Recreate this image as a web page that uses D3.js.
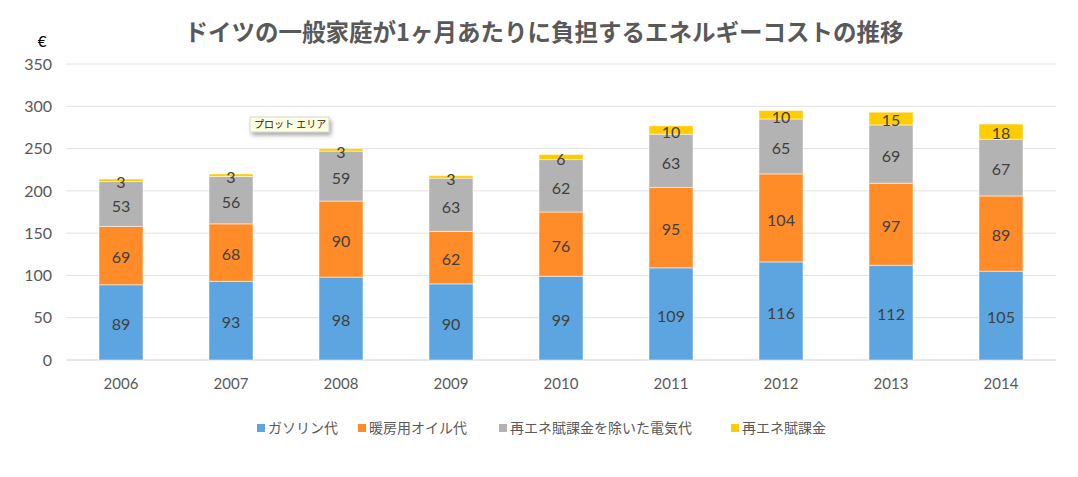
<!DOCTYPE html>
<html><head><meta charset="utf-8">
<script src="https://cdn.jsdelivr.net/npm/d3@7"></script>
<style>body{margin:0;background:#fff;} svg{font-family:"Noto Sans CJK JP","Open Sans",sans-serif;} .num{font-family:Lato,"Open Sans",sans-serif;}</style>
</head><body>
<svg id="c" width="1078" height="477"></svg>
<script>
const years = ["2006","2007","2008","2009","2010","2011","2012","2013","2014"];
const seriesNames = ["ガソリン代","暖房用オイル代","再エネ賦課金を除いた電気代","再エネ賦課金"];
const gasoline = [89,93,98,90,99,109,116,112,105];
const heating  = [69,68,90,62,76,95,104,97,89];
const electric = [53,56,59,63,62,63,65,69,67];
const levy     = [3,3,3,3,6,10,10,15,18];
const yTicks = [0,50,100,150,200,250,300,350];
const colors = ["#5DA5E0","#FF8C28","#B3B3B3","#FFCC00"];

const svg = d3.select("#c");
const x = d3.scaleBand().domain(years).range([66,1056]).paddingInner(0.6).paddingOuter(0.3);
const y = d3.scaleLinear().domain([0,350]).range([360,64]);

const rows = years.map((yr,i)=>({year:yr, s0:gasoline[i], s1:heating[i], s2:electric[i], s3:levy[i]}));
const stack = d3.stack().keys(["s0","s1","s2","s3"])(rows);

// grid
svg.append("g").selectAll("line").data(yTicks).join("line")
  .attr("x1",66).attr("x2",1056).attr("y1",d=>y(d)).attr("y2",d=>y(d))
  .attr("stroke",d=>d===0?"#d0d0d0":"#e2e2e2").attr("stroke-width",1);

// y labels
svg.append("g").selectAll("text").data(yTicks).join("text").attr("class","num")
  .attr("x",52).attr("y",d=>y(d)).attr("dy","0.36em").attr("text-anchor","end")
  .attr("font-size",16).attr("fill","#595959").text(d=>d);
svg.append("text").attr("class","num").attr("x",42).attr("y",47).attr("text-anchor","middle").attr("font-size",15).attr("fill","#000").text("€");

// bars
const g = svg.append("g");
stack.forEach((layer,li)=>{
  g.append("g").selectAll("rect").data(layer).join("rect")
    .attr("x",d=>x(d.data.year)).attr("width",x.bandwidth())
    .attr("y",d=>y(d[1])).attr("height",d=>y(d[0])-y(d[1]))
    .attr("fill",colors[li]).attr("stroke","#ffffff").attr("stroke-opacity",0.5).attr("stroke-width",1);
  g.append("g").selectAll("text").data(layer).join("text").attr("class","num")
    .attr("x",d=>x(d.data.year)+x.bandwidth()/2)
    .attr("y",d=>(y(d[0])+y(d[1]))/2 + 2)
    .attr("dy","0.36em").attr("text-anchor","middle")
    .attr("font-size",16).attr("fill","#404040")
    .text(d=>d[1]-d[0]);
});

// x labels
svg.append("g").selectAll("text").data(years).join("text").attr("class","num")
  .attr("x",d=>x(d)+x.bandwidth()/2).attr("y",384).attr("dy","0.36em").attr("text-anchor","middle")
  .attr("font-size",15).attr("fill","#595959").text(d=>d);

// title
svg.append("text").attr("x",544).attr("y",33).attr("dy","0.35em").attr("text-anchor","middle")
  .attr("font-size",23.5).attr("font-weight","bold").attr("fill","#595959")
  .text("ドイツの一般家庭が1ヶ月あたりに負担するエネルギーコストの推移");

// legend
const legX = [257,358,499,731];
const leg = svg.append("g");
seriesNames.forEach((n,i)=>{
  leg.append("rect").attr("x",legX[i]).attr("y",424).attr("width",8).attr("height",8).attr("fill",colors[i]);
  leg.append("text").attr("x",legX[i]+11).attr("y",428).attr("dy","0.35em").attr("font-size",14).attr("fill","#595959").text(n);
});

// tooltip
const defs = svg.append("defs");
const f = defs.append("filter").attr("id","sh").attr("x","-20%").attr("y","-30%").attr("width","150%").attr("height","190%");
f.append("feDropShadow").attr("dx",2).attr("dy",3).attr("stdDeviation",2).attr("flood-color","#000").attr("flood-opacity",0.35);
svg.append("rect").attr("x",250).attr("y",117).attr("width",79).attr("height",15).attr("fill","#FFFFE1").attr("stroke","#bdbdbd").attr("stroke-width",0.6).attr("filter","url(#sh)");
svg.append("text").attr("x",254).attr("y",124.5).attr("dy","0.35em").attr("font-size",10).attr("fill","#222").text("プロット エリア");
</script>
</body></html>
